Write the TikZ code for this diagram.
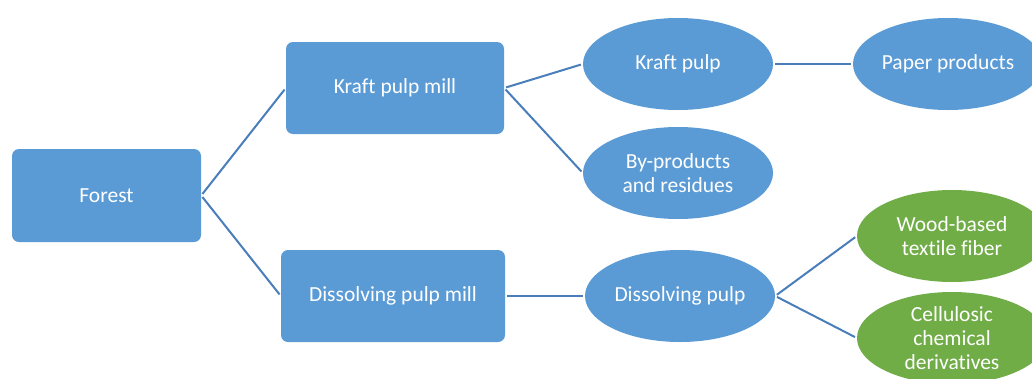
\documentclass[tikz,border=0pt]{standalone}
\usepackage{fontspec}
\setmainfont{Carlito}[Ligatures={NoCommon}]
\usetikzlibrary{shapes.geometric}
\definecolor{boxblue}{HTML}{5B9BD5}
\definecolor{leafgreen}{HTML}{70AD47}
\definecolor{linkblue}{HTML}{4A7EBB}
\begin{document}
\begin{tikzpicture}[x=1pt,y=-1pt,
  every node/.style={text=white,font=\fontsize{21.5}{24}\selectfont,align=center,inner sep=0pt},
  millbox/.style={fill=boxblue,rounded corners=7pt},
  pulpoval/.style={ellipse,fill=boxblue,minimum width=190pt,minimum height=92pt},
  endoval/.style={ellipse,fill=leafgreen,minimum width=190pt,minimum height=92pt},
  link/.style={draw=linkblue,line width=2pt,shorten <=2pt,shorten >=2pt}]
\clip (0,0) rectangle (1032,378);
\fill[white] (0,0) rectangle (1032,378);
% process stages
\node[millbox,minimum width=189pt,minimum height=93pt] (forest) at (106.5,195.5) {Forest};
\node[millbox,minimum width=218pt,minimum height=92pt] (kraftmill) at (395,88) {Kraft pulp mill};
\node[millbox,minimum width=224pt,minimum height=92pt] (dissmill) at (393,296) {Dissolving pulp mill};
% pulp grades and outputs
\node[pulpoval] (kraftpulp) at (678,64) {Kraft pulp};
\node[pulpoval] (byprod) at (678,173) {By-products\\and residues};
\node[pulpoval] (paper) at (948,64) {Paper products};
\node[pulpoval] (disspulp) at (680,296) {Dissolving pulp};
\node[endoval] (textile) at (952,236) {Wood-based\\textile fiber};
\node[endoval] (cellulosic) at (952,338) {Cellulosic\\chemical\\derivatives};
% connectors
\draw[link] (forest.east) -- (kraftmill.west);
\draw[link] (forest.east) -- (dissmill.west);
\draw[link] (kraftmill.east) -- (kraftpulp.west);
\draw[link] (kraftmill.east) -- (byprod.west);
\draw[link] (kraftpulp.east) -- (paper.west);
\draw[link] (dissmill.east) -- (disspulp.west);
\draw[link] (disspulp.east) -- (textile.west);
\draw[link] (disspulp.east) -- (cellulosic.west);
\end{tikzpicture}
\end{document}
